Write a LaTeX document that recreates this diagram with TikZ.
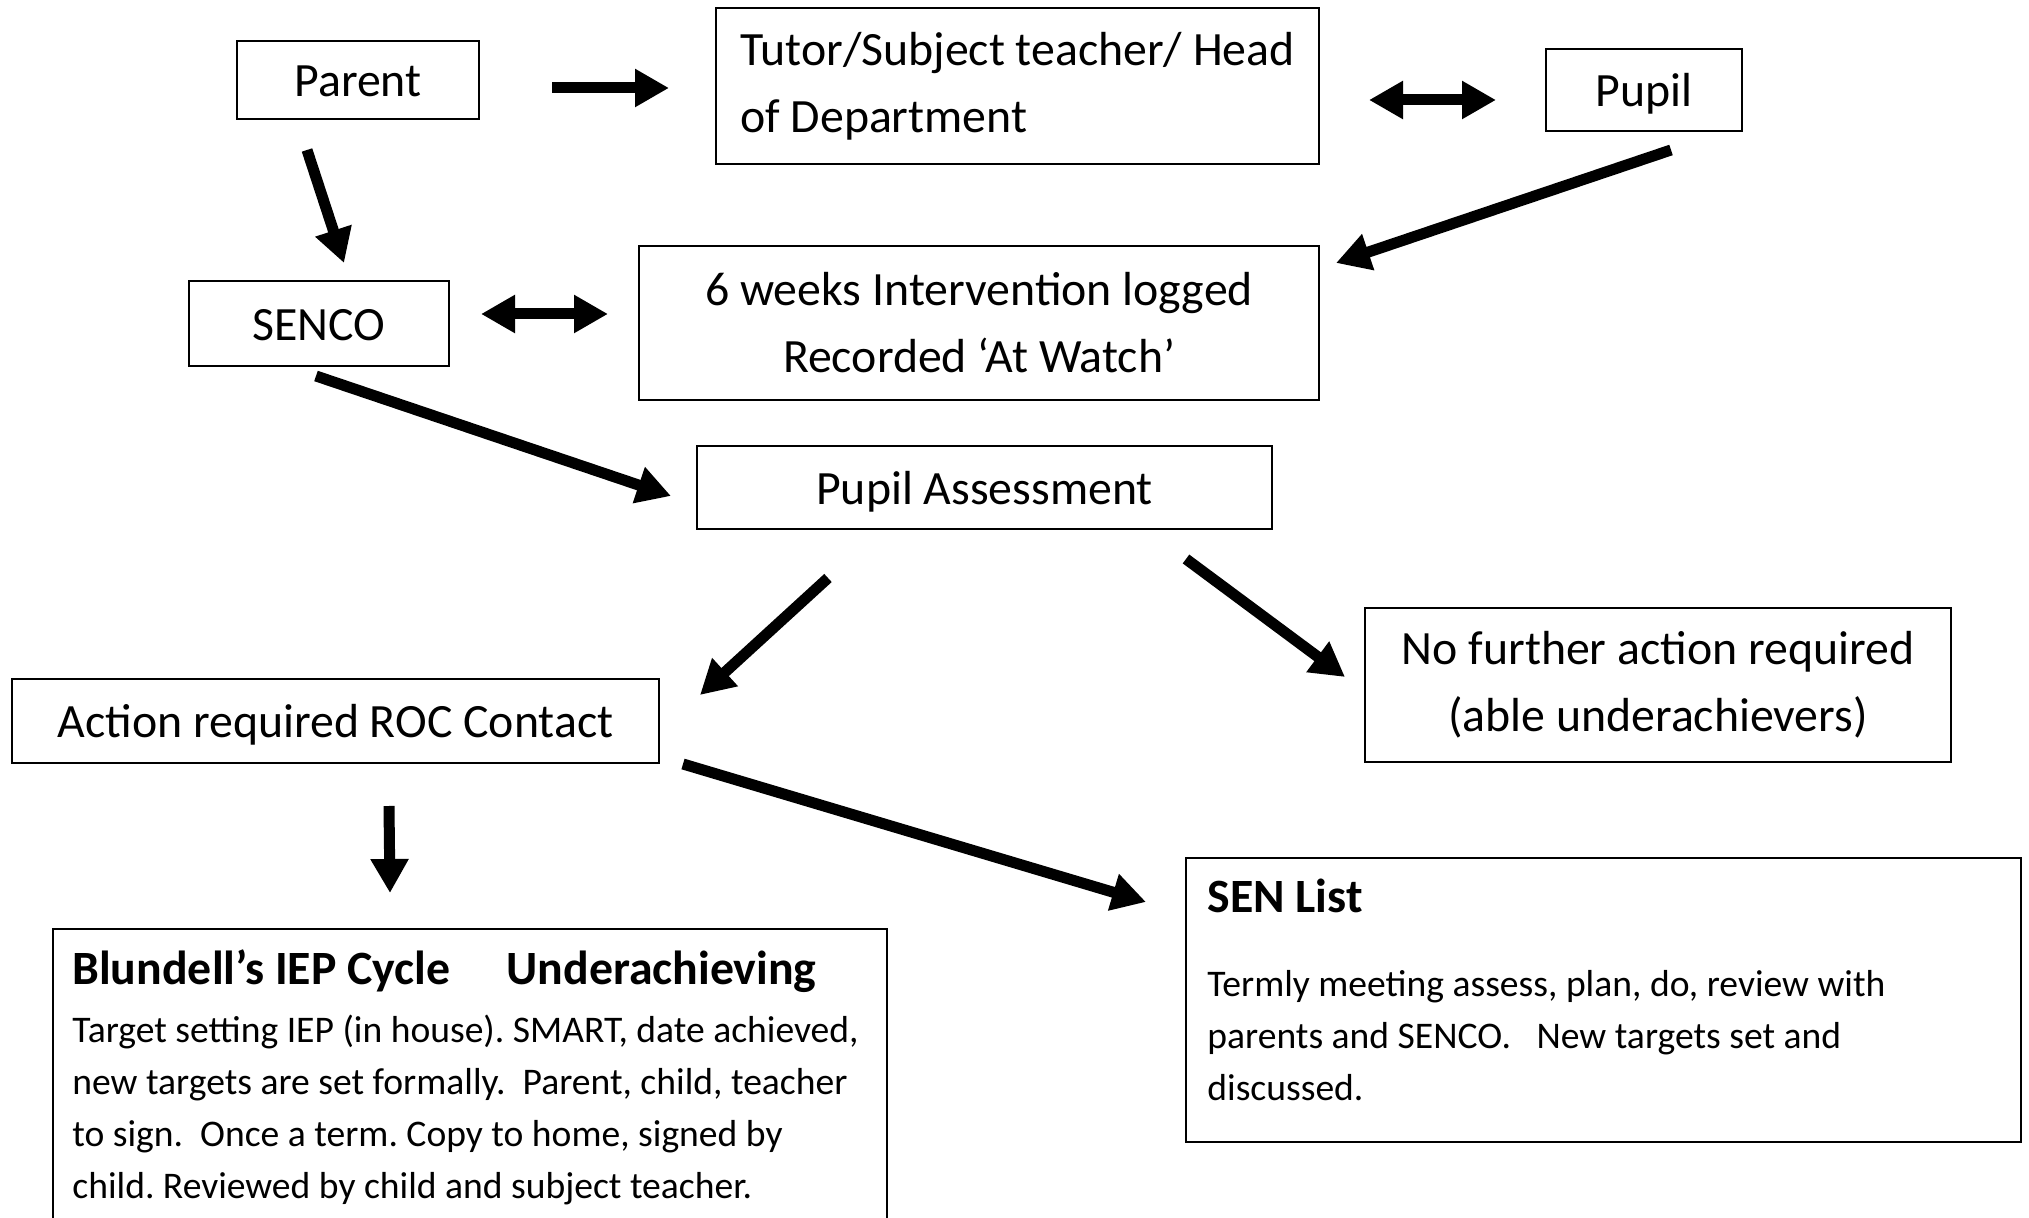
\documentclass[tikz,border=0pt]{standalone}
\usepackage{fontspec}
\setmainfont{Carlito}
\usetikzlibrary{arrows.meta}

\newcommand{\mainsize}{\fontsize{23.9}{33.5}\selectfont}
\newcommand{\bodysize}{\fontsize{18.8}{26}\selectfont\frenchspacing}

\tikzset{
  box/.style={draw, line width=1pt, inner sep=0pt, font=\mainsize, align=center},
  onebox/.style={box, text height=19.5pt, text depth=2.5pt},
  txt/.style={inner sep=0pt, align=left},
  arr/.style={line width=5.5pt, -{Triangle[length=17pt,width=18pt]}},
  darr/.style={line width=5.5pt, {Triangle[length=17pt,width=18pt]}-{Triangle[length=17pt,width=18pt]}},
}

\begin{document}
\begin{tikzpicture}[x=0.5pt, y=-0.5pt]
\useasboundingbox (0,0) rectangle (2029,1218);
\clip (0,0) rectangle (2029,1218);
% boxes
\node[onebox, minimum width=121pt, minimum height=39pt] (parent) at (358,80) {Parent};
\node[box, minimum width=301.5pt, minimum height=78pt, align=left] (tutor) at (1017.5,86) {Tutor/Subject teacher/ Head\\of Department};
\node[onebox, minimum width=98pt, minimum height=41pt] (pupil) at (1644,90) {Pupil};
\node[onebox, minimum width=130pt, minimum height=42.5pt] (senco) at (319,323.5) {SENCO};
\node[box, minimum width=340pt, minimum height=77pt] (weeks) at (979,323) {6 weeks Intervention logged\\Recorded ‘At Watch’};
\node[onebox, minimum width=287.5pt, minimum height=41.5pt] (assess) at (984.5,487.5) {Pupil Assessment};
\node[onebox, minimum width=323.5pt, minimum height=42pt] (action) at (335.5,721) {Action required ROC Contact};
\node[box, minimum width=293pt, minimum height=77pt] (nofurther) at (1658,685) {No further action required\\(able underachievers)};
\node[box, anchor=north west, minimum width=417pt, minimum height=160pt] (iep) at (52,928) {};
\node[box, anchor=north west, minimum width=417.5pt, minimum height=142pt] (sen) at (1185,857) {};
% texts of the two lower boxes (base = last line)
\node[txt, anchor=base west, font=\mainsize\bfseries] (iephead) at (72,984) {Blundell’s IEP Cycle\hspace{28pt}Underachieving};
\node[txt, anchor=base west, font=\bodysize] (ieptext) at (72,1198) {Target setting IEP (in house). SMART, date achieved,\\new targets are set formally.~ Parent, child, teacher\\to sign.~ Once a term. Copy to home, signed by\\child. Reviewed by child and subject teacher.};
\node[txt, anchor=base west, font=\mainsize\bfseries] (senhead) at (1207,912) {SEN List};
\node[txt, anchor=base west, font=\bodysize] (sentext) at (1207,1100) {Termly meeting assess, plan, do, review with\\parents and SENCO.~~ New targets set and\\discussed.};
% arrows
\draw[arr] ([shift={(72,8)}]parent.east) -- ([shift={(-46,2)}]tutor.west);
\draw[darr] ([shift={(49,14)}]tutor.east) -- ([shift={(-49,10)}]pupil.west);
\draw[arr] ([shift={(-51,30)}]parent.south) -- ([shift={(25,-17)}]senco.north);
\draw[arr] ([shift={(27,18)}]pupil.south) -- ([shift={(16,18)}]weeks.north east);
\draw[darr] ([shift={(31,-9.5)}]senco.east) -- ([shift={(-30,-9)}]weeks.west);
\draw[arr] ([shift={(-3,9)}]senco.south) -- ([shift={(-25,8.5)}]assess.west);
\draw[arr] ([shift={(-156.5,48)}]assess.south) -- ([shift={(40,17)}]action.north east);
\draw[arr] ([shift={(-87,29)}]assess.south east) -- ([shift={(-19,-8)}]nofurther.west);
\draw[arr] ([shift={(53.5,42)}]action.south) -- ([shift={(-80,-35)}]iep.north);
\draw[arr] ([shift={(23,0)}]action.south east) -- ([shift={(-39,45)}]sen.north west);
\end{tikzpicture}
\end{document}
